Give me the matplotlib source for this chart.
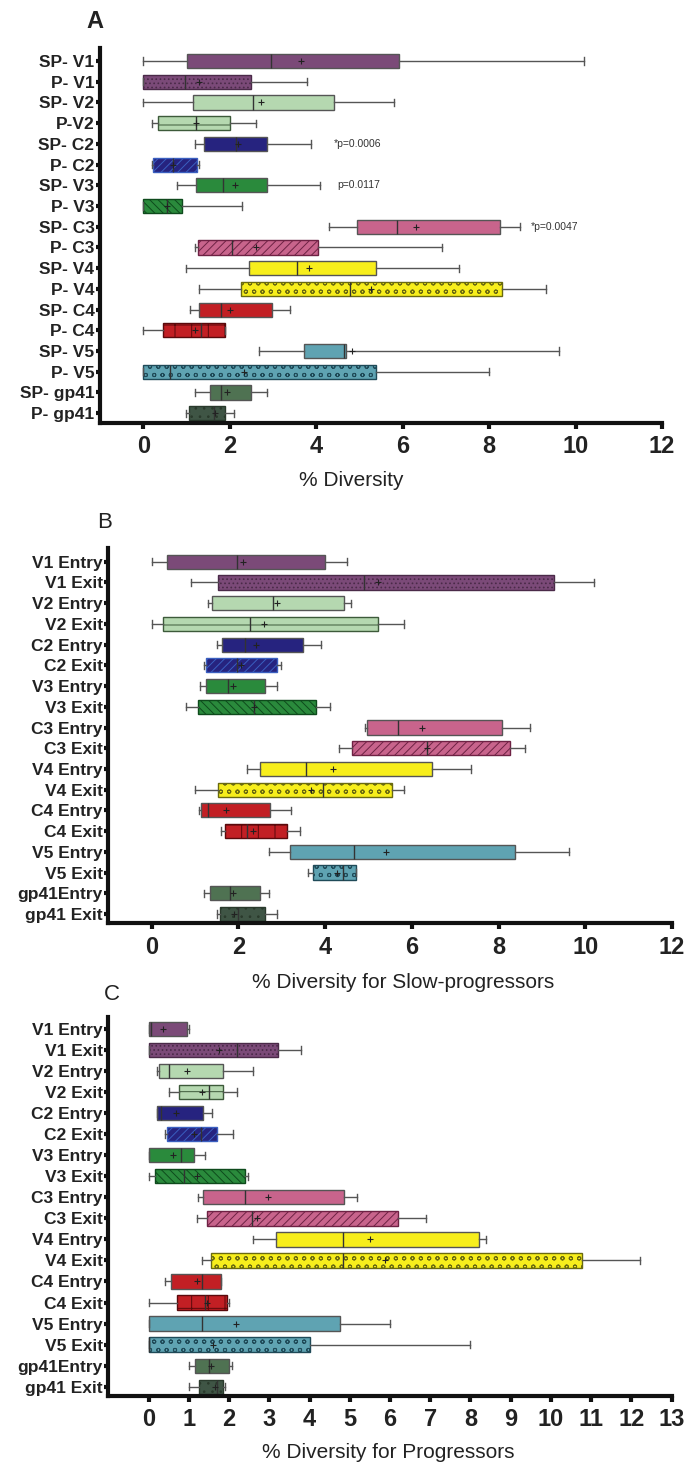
import matplotlib
matplotlib.use("Agg")
import matplotlib.pyplot as plt

plt.rcParams['font.family'] = ['Liberation Sans', 'DejaVu Sans']
plt.rcParams['hatch.linewidth'] = 0.7

# region colours (fill, hatch/edge for the patterned box)
fill_cols = ['#7b4a78', '#b5d8b0', '#26237f', '#2a8a3c', '#c8648c',
             '#f7ee1c', '#c21f24', '#5fa3b2', '#4f7252']
hatch_cols = ['#4a2a48', '#3d5a3a', '#3a5fc0', '#0e4a1c', '#6e2244',
              '#6a6a10', '#5a0a0c', '#1f4a58', '#2a3a2c']
second_fill = ['#7b4a78', '#b5d8b0', '#26237f', '#2a8a3c', '#c8648c',
               '#f7ee1c', '#c21f24', '#5fa3b2', '#3f5545']
hatches = ['....', '-', '////', '\\\\\\\\', '////', 'oo', '+', 'oo', '..']

# ---- panel A : SP vs P
labels_a = ['SP- V1', 'P- V1', 'SP- V2', 'P-V2', 'SP- C2', 'P- C2', 'SP- V3', 'P- V3',
            'SP- C3', 'P- C3', 'SP- V4', 'P- V4', 'SP- C4', 'P- C4', 'SP- V5', 'P- V5',
            'SP- gp41', 'P- gp41']
lo_a = [0.0, 0.0, 0.0, 0.20, 1.19, 0.20, 0.79, 0.0, 4.30, 1.19, 0.99, 1.29, 1.08, 0.0, 2.68, 0.0, 1.19, 0.99]
q1_a = [1.02, 0.0, 1.15, 0.34, 1.40, 0.22, 1.23, 0.0, 4.95, 1.26, 2.44, 2.27, 1.29, 0.46, 3.72, 0.0, 1.54, 1.06]
med_a = [2.96, 0.96, 2.54, 1.23, 2.15, 0.70, 1.84, 0.55, 5.86, 2.05, 3.55, 4.79, 1.79, 1.34, 4.65, 0.63, 1.80, 1.63]
q3_a = [5.92, 2.50, 4.42, 2.01, 2.86, 1.24, 2.86, 0.90, 8.25, 4.04, 5.38, 8.31, 2.98, 1.88, 4.70, 5.38, 2.49, 1.89]
hi_a = [10.2, 3.78, 5.79, 2.60, 3.89, 1.28, 4.10, 2.29, 8.71, 6.91, 7.31, 9.32, 3.39, 1.88, 9.62, 8.00, 2.87, 2.09]
mean_a = [3.65, 1.28, 2.72, 1.23, 2.20, 0.70, 2.13, 0.55, 6.32, 2.60, 3.84, 5.28, 2.01, 1.20, 4.84, 2.34, 1.94, 1.65]
pvals_a = ['*p=0.0006', 'p=0.0117', '*p=0.0047']
prow_a = [4, 6, 8]
px_a = [4.40, 4.48, 8.96]

# ---- panel B : slow-progressors entry / exit
labels_bc = ['V1 Entry', 'V1 Exit', 'V2 Entry', 'V2 Exit', 'C2 Entry', 'C2 Exit', 'V3 Entry',
             'V3 Exit', 'C3 Entry', 'C3 Exit', 'V4 Entry', 'V4 Exit', 'C4 Entry', 'C4 Exit',
             'V5 Entry', 'V5 Exit', 'gp41Entry', 'gp41 Exit']
lo_b = [0.0, 0.91, 1.31, 0.0, 1.50, 1.21, 1.12, 0.80, 4.92, 4.31, 2.20, 1.00, 1.10, 1.60, 2.71, 3.60, 1.21, 1.50]
q1_b = [0.35, 1.53, 1.40, 0.27, 1.63, 1.26, 1.26, 1.07, 4.96, 4.61, 2.51, 1.54, 1.14, 1.70, 3.18, 3.73, 1.34, 1.57]
med_b = [1.96, 4.89, 2.80, 2.26, 2.16, 1.97, 1.75, 2.37, 5.67, 6.36, 3.56, 3.95, 1.30, 2.20, 4.66, 4.41, 1.81, 2.00]
q3_b = [4.00, 9.28, 4.43, 5.21, 3.50, 2.89, 2.62, 3.78, 8.09, 8.26, 6.46, 5.54, 2.72, 3.12, 8.39, 4.71, 2.51, 2.62]
hi_b = [4.51, 10.21, 4.60, 5.82, 3.91, 2.99, 2.89, 4.11, 8.72, 8.62, 7.36, 5.82, 3.21, 3.41, 9.63, 4.71, 2.70, 2.89]
mean_b = [2.10, 5.22, 2.88, 2.58, 2.41, 2.05, 1.87, 2.37, 6.23, 6.36, 4.18, 3.68, 1.72, 2.33, 5.40, 4.28, 1.87, 1.90]

# ---- panel C : progressors entry / exit
lo_c = [0.0, 0.0, 0.21, 0.51, 0.20, 0.40, 0.0, 0.02, 1.23, 1.21, 2.59, 1.32, 0.41, 0.0, 0.0, 0.0, 1.01, 1.01]
q1_c = [0.0, 0.0, 0.25, 0.75, 0.20, 0.45, 0.0, 0.15, 1.36, 1.45, 3.16, 1.54, 0.55, 0.70, 0.0, 0.0, 1.15, 1.25]
med_c = [0.05, 2.21, 0.51, 1.50, 0.32, 1.31, 0.80, 0.89, 2.40, 2.58, 4.82, 4.82, 1.32, 1.40, 1.32, 0.0, 1.50, 1.70]
q3_c = [0.95, 3.21, 1.86, 1.86, 1.36, 1.71, 1.14, 2.40, 4.85, 6.20, 8.21, 10.76, 1.81, 1.95, 4.75, 4.00, 2.00, 1.86]
hi_c = [1.01, 3.79, 2.59, 2.20, 1.58, 2.09, 1.40, 2.48, 5.19, 6.90, 8.38, 12.2, 1.81, 2.00, 6.00, 8.00, 2.08, 1.90]
mean_c = [0.37, 1.74, 0.95, 1.34, 0.69, 1.12, 0.62, 1.20, 2.96, 2.70, 5.50, 5.88, 1.20, 1.45, 2.17, 1.61, 1.55, 1.65]


def draw_panel(ax, labels, lo, q1, med, q3, hi, mean, xmax, xticks, ylim):
    stats = []
    for i in range(len(labels)):
        stats.append({'whislo': lo[i], 'q1': q1[i], 'med': med[i], 'q3': q3[i],
                      'whishi': hi[i], 'mean': mean[i], 'fliers': [], 'label': labels[i]})
    pos = list(range(len(labels)))
    bp = ax.bxp(stats, positions=pos, orientation='horizontal', widths=0.68,
                patch_artist=True, showmeans=True, showfliers=False, capwidths=0.35,
                whiskerprops=dict(color='#555555', lw=1.0),
                capprops=dict(color='#555555', lw=1.0),
                medianprops=dict(color='#333333', lw=1.0),
                meanprops=dict(marker='+', markeredgecolor='#222222', markersize=4,
                               markeredgewidth=0.8))
    for i, box in enumerate(bp['boxes']):
        r = i // 2
        if i % 2 == 0:
            box.set_facecolor(fill_cols[r])
            box.set_edgecolor('#555555')
            box.set_linewidth(1.0)
        else:
            box.set_facecolor(second_fill[r])
            box.set_edgecolor(hatch_cols[r])
            box.set_hatch(hatches[r])
            box.set_linewidth(1.0)
    ax.set_xlim(-1, xmax)
    ax.set_ylim(*ylim)
    ax.set_xticks(xticks)
    ax.set_xticklabels([str(t) for t in xticks])
    ax.set_yticks(pos)
    ax.set_yticklabels(labels, fontsize=12.5, fontweight='bold', color='#222222')
    for lab in ax.get_xticklabels():
        lab.set_fontsize(17)
        lab.set_fontweight('bold')
        lab.set_color('#222222')
    for s in ['top', 'right']:
        ax.spines[s].set_visible(False)
    for s in ['left', 'bottom']:
        ax.spines[s].set_linewidth(3)
        ax.spines[s].set_color('#111111')
    ax.tick_params(axis='y', length=3, width=3, pad=1, color='#111111')
    ax.tick_params(axis='x', length=4, width=3, pad=5, color='#111111')
    ax.set_facecolor('white')


W, H = 687, 1465
fig = plt.figure(figsize=(6.87, 14.65), dpi=100)

ax_a = fig.add_axes([100 / W, 1 - 422.7 / H, 562 / W, 374.7 / H])
draw_panel(ax_a, labels_a, lo_a, q1_a, med_a, q3_a, hi_a, mean_a, 12,
           [0, 2, 4, 6, 8, 10, 12], (17.46, -0.63))
for t, r, x in zip(pvals_a, prow_a, px_a):
    ax_a.text(x, r, t, fontsize=7.5, color='#333333', va='center', ha='left')

ax_b = fig.add_axes([108.3 / W, 1 - 923.3 / H, 563.7 / W, 375 / H])
draw_panel(ax_b, labels_bc, lo_b, q1_b, med_b, q3_b, hi_b, mean_b, 12,
           [0, 2, 4, 6, 8, 10, 12], (17.45, -0.65))

ax_c = fig.add_axes([108.3 / W, 1 - 1396 / H, 563.4 / W, 379.3 / H])
draw_panel(ax_c, labels_bc, lo_c, q1_c, med_c, q3_c, hi_c, mean_c, 13,
           list(range(14)), (17.44, -0.58))

# panel letters and axis titles
fig.text(95 / W, 1 - 21 / H, 'A', fontsize=17, fontweight='bold', ha='center', va='center', color='#222222')
fig.text(105 / W, 1 - 522 / H, 'B', fontsize=16, ha='center', va='center', color='#222222')
fig.text(112 / W, 1 - 994 / H, 'C', fontsize=16, ha='center', va='center', color='#222222')
fig.text(351 / W, 1 - 481 / H, '% Diversity', fontsize=15, ha='center', va='center', color='#222222')
fig.text(403 / W, 1 - 982 / H, '% Diversity for Slow-progressors', fontsize=15, ha='center', va='center', color='#222222')
fig.text(388 / W, 1 - 1453 / H, '% Diversity for Progressors', fontsize=15, ha='center', va='center', color='#222222')

fig.savefig('out.png', dpi=100, facecolor='white')
